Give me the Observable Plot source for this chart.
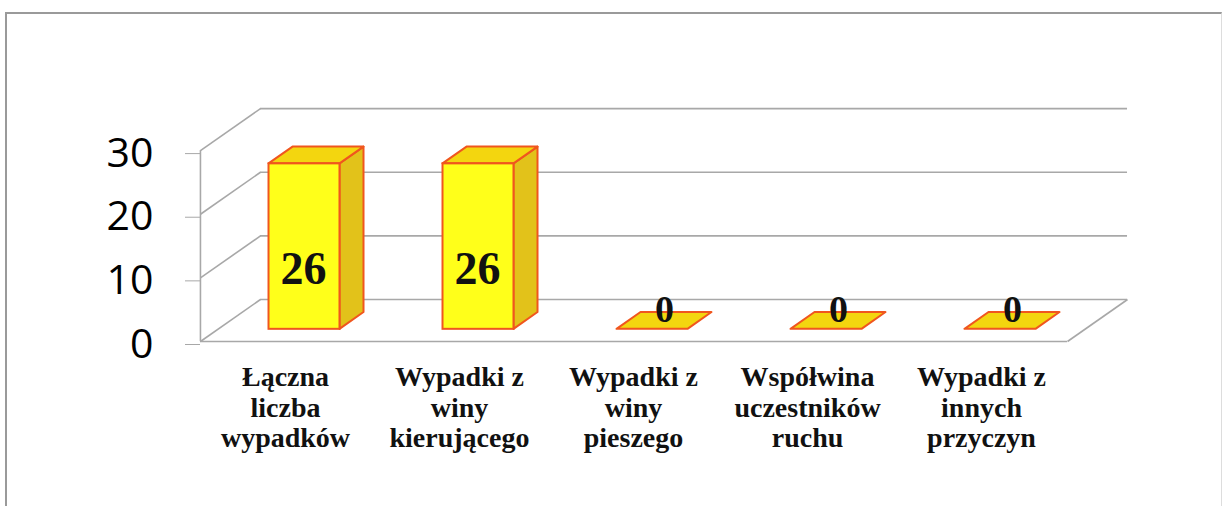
<!DOCTYPE html>
<html>
<head>
<meta charset="utf-8">
<script src="https://cdn.jsdelivr.net/npm/d3@7"></script>
<script src="https://cdn.jsdelivr.net/npm/@observablehq/plot@0.6"></script>
<style>
  html, body { margin: 0; padding: 0; background: #ffffff; }
  #wrap { position: relative; width: 1223px; height: 506px; overflow: hidden; }
  #border { position: absolute; left: 5px; top: 12px; width: 1214px; height: 520px;
            border-left: 2px solid #9a9a9a; border-top: 2px solid #9a9a9a; border-right: 1px solid #dddddd; }
  #chart { position: absolute; left: 0; top: 0; }
</style>
</head>
<body>
<div id="wrap"><div id="border"></div><div id="chart"></div></div>
<script>
// ---- data ----
const categories = [
  "Łączna\nliczba\nwypadków",
  "Wypadki z\nwiny\nkierującego",
  "Wypadki z\nwiny\npieszego",
  "Współwina\nuczestników\nruchu",
  "Wypadki z\ninnych\nprzyczyn"
];
const values = [26, 26, 0, 0, 0];
const yTicks = [0, 10, 20, 30];

// ---- 3D geometry (in scale units) ----
const X0 = -0.598, X1 = 4.385;   // floor front left / right
const DX = 0.345, DY = 6.6;      // full depth offset
const F = 0.29, BD = 0.4;        // bar front depth and bar depth (fractions)
const W = 0.204;                 // half bar width
const fy = F * DY, bdx = BD * DX, bdy = BD * DY;

const bars = categories.map((c, i) => ({i, c, v: values[i]}));
const topRows = bars.flatMap(d => [
  {i: d.i, y: d.v + fy, x1: d.i - W, x2: d.i + W},
  {i: d.i, y: d.v + fy + bdy, x1: d.i - W + bdx, x2: d.i + W + bdx}
]);
const sideRows = bars.filter(d => d.v > 0).flatMap(d => [
  {i: d.i, x: d.i + W, y1: fy, y2: d.v + fy},
  {i: d.i, x: d.i + W + bdx, y1: fy + bdy, y2: d.v + fy + bdy}
]);

const grid = "#a8a8a8";
const edge = "#f0561e";

const chart = Plot.plot({
  width: 1223,
  height: 506,
  marginLeft: 200,
  marginRight: 156,
  marginTop: 150,
  marginBottom: 165,
  style: {fontFamily: "Liberation Serif", color: "black", background: "transparent"},
  x: {type: "linear", domain: [0, 4], range: [304, 1000], axis: null},
  y: {type: "linear", domain: [0, 30], range: [341, 150.1], axis: null},
  marks: [
    // back wall gridlines
    Plot.ruleY(yTicks, {y: t => t + DY, x1: () => X0 + DX, x2: () => X1 + DX, stroke: grid, strokeWidth: 1.6}),
    // side wall diagonals
    Plot.link(yTicks, {x1: () => X0, y1: t => t, x2: () => X0 + DX, y2: t => t + DY, stroke: grid, strokeWidth: 1.6}),
    // floor front edge and right edge
    Plot.ruleY([0], {x1: () => X0, x2: () => X1, stroke: grid, strokeWidth: 1.6}),
    Plot.link([0], {x1: () => X1, y1: () => 0, x2: () => X1 + DX, y2: () => DY, stroke: grid, strokeWidth: 1.6}),
    // front axis line
    Plot.ruleX([X0], {y1: 0, y2: 30, stroke: grid, strokeWidth: 1.6}),
    Plot.axisY(yTicks, {anchor: "left", tickSize: 15, tickPadding: 32, stroke: grid, fill: "black",
      fontSize: 41, fontFamily: "Open Sans", dy: 3}),
    // bars: side, top, front
    Plot.areaY(sideRows, {x: "x", y1: "y1", y2: "y2", z: "i", fill: "#e2c21a", stroke: edge, strokeWidth: 2, strokeLinejoin: "round"}),
    Plot.areaX(topRows, {y: "y", x1: "x1", x2: "x2", z: "i", fill: "#f3d60f", stroke: edge, strokeWidth: 2, strokeLinejoin: "round"}),
    Plot.rect(bars.filter(d => d.v > 0), {x1: d => d.i - W, x2: d => d.i + W, y1: () => fy, y2: d => d.v + fy,
      fill: "#ffff1a", stroke: edge, strokeWidth: 2}),
    // value labels
    Plot.text(bars.filter(d => d.v > 0), {x: "i", y: d => fy + d.v * 0.36, text: d => String(d.v),
      fontSize: 46, fontWeight: "bold", fill: "#111", dx: -1}),
    Plot.text(bars.filter(d => d.v === 0), {x: d => d.i + bdx / 2, y: () => fy + bdy / 2, text: d => String(d.v),
      fontSize: 38, fontWeight: "bold", fill: "#111", lineAnchor: "bottom", dy: 1}),
    // category labels
    Plot.text(bars, {x: "i", text: "c", frameAnchor: "bottom", lineAnchor: "top", dy: 22, dx: -19,
      lineHeight: 1.107, fontSize: 28, fontWeight: "bold", fill: "#111"})
  ]
});
document.getElementById("chart").appendChild(chart);
</script>
</body>
</html>
